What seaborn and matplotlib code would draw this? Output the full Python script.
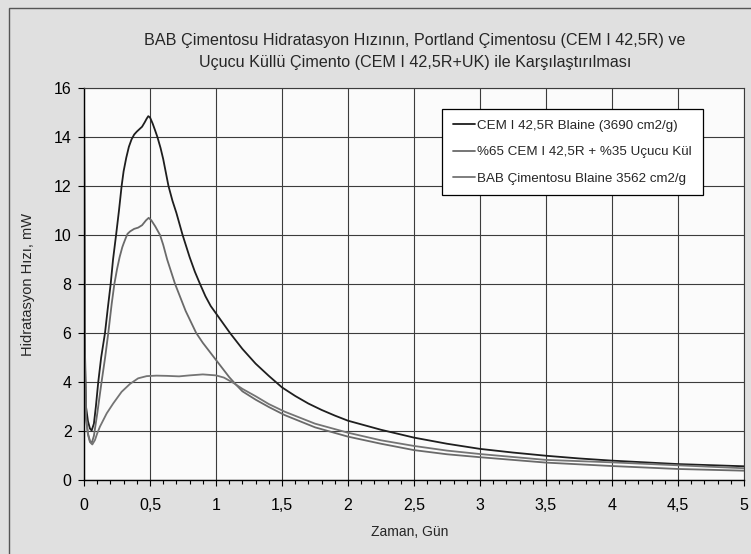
import numpy as np
import pandas as pd
import matplotlib
matplotlib.use("Agg")
import matplotlib.pyplot as plt
import seaborn as sns
from matplotlib.patches import Rectangle
from matplotlib.ticker import MultipleLocator, FuncFormatter

# Seri adlari (lejant)
seri_adlari = [
    "CEM I 42,5R Blaine (3690 cm2/g)",
    "%65 CEM I 42,5R + %35 Uçucu Kül",
    "BAB Çimentosu Blaine 3562 cm2/g",
]
renkler = ["#1e1e1e", "#6a6a6a", "#747474"]

# CEM I 42,5R (zaman gun, mW)
t_cem = [0, 0.005, 0.015, 0.03, 0.045, 0.058, 0.075, 0.09, 0.108, 0.13, 0.159,
         0.18, 0.202, 0.22, 0.243, 0.265, 0.285, 0.3, 0.32, 0.34, 0.36, 0.38,
         0.4, 0.42, 0.44, 0.46, 0.475, 0.487, 0.5, 0.52, 0.54, 0.556, 0.58,
         0.6, 0.62, 0.64, 0.67, 0.7, 0.747, 0.8, 0.84, 0.879, 0.92, 0.96,
         1.0, 1.106, 1.2, 1.3, 1.4, 1.5, 1.6, 1.7, 1.8, 1.9, 2.0, 2.25, 2.5,
         2.75, 3.0, 3.25, 3.5, 3.75, 4.0, 4.5, 5.0]
v_cem = [16.5, 6.0, 3.0, 2.4, 2.1, 2.02, 2.3, 3.0, 4.0, 5.0, 6.0,
         7.0, 8.0, 9.0, 10.0, 11.0, 12.0, 12.6, 13.15, 13.6, 13.9, 14.1,
         14.22, 14.32, 14.42, 14.6, 14.75, 14.85, 14.8, 14.55, 14.25, 14.0, 13.55,
         13.1, 12.55, 12.0, 11.4, 10.9, 10.0, 9.1, 8.5, 8.0, 7.5, 7.1,
         6.8, 6.0, 5.35, 4.75, 4.25, 3.78, 3.43, 3.12, 2.86, 2.63, 2.42, 2.05, 1.73,
         1.48, 1.27, 1.12, 0.99, 0.88, 0.79, 0.65, 0.56]

# %65 CEM I + %35 ucucu kul
t_uk = [0, 0.005, 0.015, 0.03, 0.045, 0.058, 0.075, 0.1, 0.133, 0.16, 0.184,
        0.21, 0.23, 0.25, 0.27, 0.29, 0.3, 0.318, 0.33, 0.35, 0.38, 0.41,
        0.44, 0.47, 0.49, 0.51, 0.54, 0.576, 0.6, 0.63, 0.66, 0.69, 0.73,
        0.77, 0.81, 0.85, 0.9, 0.95, 1.0, 1.05, 1.1, 1.15, 1.2, 1.3, 1.4,
        1.52, 1.75, 2.0, 2.25, 2.5, 2.75, 3.0, 3.5, 4.0, 4.5, 5.0]
v_uk = [16.5, 5.5, 2.6, 1.9, 1.6, 1.5, 1.8, 2.7, 4.0, 5.0, 6.0,
        7.2, 8.0, 8.6, 9.1, 9.5, 9.65, 9.9, 10.05, 10.15, 10.25, 10.3,
        10.4, 10.6, 10.7, 10.6, 10.35, 10.0, 9.6, 9.0, 8.5, 8.0, 7.45,
        6.9, 6.45, 6.0, 5.6, 5.25, 4.9, 4.55, 4.2, 3.9, 3.62, 3.28, 2.98,
        2.65, 2.15, 1.77, 1.48, 1.22, 1.05, 0.93, 0.71, 0.57, 0.45, 0.38]

# BAB cimentosu
t_bab = [0, 0.005, 0.015, 0.03, 0.045, 0.063, 0.083, 0.1, 0.121, 0.172, 0.222,
         0.285, 0.348, 0.41, 0.475, 0.55, 0.63, 0.72, 0.8, 0.9, 1.0, 1.06,
         1.13, 1.2, 1.3, 1.4, 1.52, 1.75, 2.0, 2.25, 2.5, 2.75, 3.0, 3.5, 4.0,
         4.5, 5.0]
v_bab = [16.5, 5.0, 2.5, 1.85, 1.55, 1.45, 1.63, 1.9, 2.18, 2.72, 3.13,
         3.6, 3.92, 4.15, 4.24, 4.26, 4.25, 4.23, 4.27, 4.31, 4.27, 4.18,
         3.97, 3.72, 3.42, 3.1, 2.79, 2.3, 1.93, 1.62, 1.39, 1.2, 1.06, 0.82, 0.72,
         0.6, 0.48]

df = pd.concat([
    pd.DataFrame({"Zaman": t_cem, "Hiz": v_cem, "Seri": seri_adlari[0]}),
    pd.DataFrame({"Zaman": t_uk, "Hiz": v_uk, "Seri": seri_adlari[1]}),
    pd.DataFrame({"Zaman": t_bab, "Hiz": v_bab, "Seri": seri_adlari[2]}),
], ignore_index=True)

sns.set_style("white")
plt.rcParams['font.family'] = ['Liberation Sans', 'DejaVu Sans']

W, H = 751, 554
fig = plt.figure(figsize=(W / 100, H / 100), dpi=100, facecolor="#e0e0e0")
ax = fig.add_axes([84 / W, 74 / H, 660 / W, 392 / H])
ax.set_facecolor("#fbfbfb")

sns.lineplot(data=df, x="Zaman", y="Hiz", hue="Seri", hue_order=seri_adlari,
             palette=renkler, estimator=None, sort=False, linewidth=1.3, ax=ax)

ax.set_xlim(0, 5)
ax.set_ylim(0, 16)
ax.xaxis.set_major_locator(MultipleLocator(0.5))
ax.xaxis.set_minor_locator(MultipleLocator(0.1))
ax.yaxis.set_major_locator(MultipleLocator(2))
ax.xaxis.set_major_formatter(FuncFormatter(lambda x, p: f"{x:g}".replace(".", ",")))
ax.grid(True, which="major", color="#3c3c3c", linewidth=0.8)
ax.tick_params(axis="both", which="major", direction="out", length=4, width=0.8,
               color="black", labelsize=11.5, labelcolor="black")
ax.tick_params(axis="x", which="major", pad=9, bottom=True)
ax.tick_params(axis="y", which="major", pad=5, left=True)
ax.tick_params(axis="x", which="minor", direction="out", length=3, width=0.8,
               color="black", bottom=True)
for s in ["left", "bottom"]:
    ax.spines[s].set_color("black")
    ax.spines[s].set_linewidth(1.0)
for s in ["top", "right"]:
    ax.spines[s].set_color("#3c3c3c")
    ax.spines[s].set_linewidth(0.8)
ax.set_xlabel("")
ax.set_ylabel("")

h, l = ax.get_legend_handles_labels()
leg = ax.legend(h, l, loc="upper left", bbox_to_anchor=((442 - 84) / 660, (480 - 109) / 392),
                frameon=True, fancybox=False, edgecolor="black", facecolor="white",
                framealpha=1, handlelength=1.7, handletextpad=0.15, labelspacing=1.05,
                borderpad=0.8, borderaxespad=0, prop={"size": 9.6})
leg.get_frame().set_linewidth(0.9)

fig.text(415 / W, 1 - 40 / H,
         "BAB Çimentosu Hidratasyon Hızının, Portland Çimentosu (CEM I 42,5R) ve",
         ha="center", va="center", fontsize=11.6)
fig.text(415 / W, 1 - 62 / H,
         "Uçucu Küllü Çimento (CEM I 42,5R+UK) ile Karşılaştırılması",
         ha="center", va="center", fontsize=11.6)
fig.text(28 / W, 1 - 285 / H, "Hidratasyon Hızı, mW", rotation=90,
         ha="center", va="center", fontsize=10.5)
fig.text(410 / W, 1 - 532 / H, "Zaman, Gün", ha="center", va="center",
         fontsize=10)

# dis cerceve (sol ve ust kenar gorunuyor)
fig.patches.append(Rectangle((9 / W, -0.1), 1.2, 1.1 - 8 / H, transform=fig.transFigure,
                             fill=False, edgecolor="#555555", linewidth=1.0))

fig.savefig("out.png", dpi=100, facecolor=fig.get_facecolor())
